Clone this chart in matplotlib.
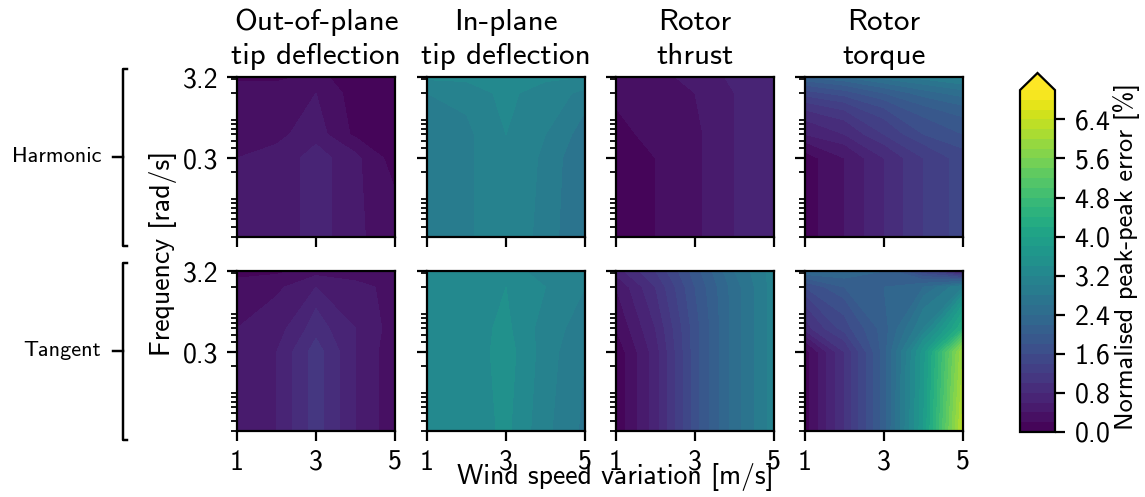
import numpy as np
import matplotlib
matplotlib.use("Agg")
import matplotlib.pyplot as plt
from matplotlib.lines import Line2D
from matplotlib.ticker import NullFormatter

plt.rcParams['font.family'] = ['cmss10', 'DejaVu Sans']
plt.rcParams['axes.unicode_minus'] = False
plt.rcParams['axes.formatter.use_mathtext'] = True
plt.rcParams['axes.linewidth'] = 1.0
plt.rcParams['xtick.major.size'] = 4.5
plt.rcParams['ytick.major.size'] = 4.5
plt.rcParams['xtick.minor.size'] = 2.5
plt.rcParams['ytick.minor.size'] = 2.5
plt.rcParams['xtick.major.width'] = 1.0
plt.rcParams['ytick.major.width'] = 1.0
plt.rcParams['ytick.minor.width'] = 0.8
plt.rcParams['xtick.major.pad'] = 4
plt.rcParams['ytick.major.pad'] = 4

wind = [1, 2, 3, 4, 5]                 # wind speed variation [m/s]
freq = [0.03, 0.3, 0.6, 2.0, 3.2]      # frequency [rad/s]
titles = ["Out-of-plane\ntip deflection", "In-plane\ntip deflection",
          "Rotor\nthrust", "Rotor\ntorque"]
rows = ["Harmonic", "Tangent"]

# rows of each grid go with freq (low -> high), columns with wind
harm_oop = [[0.40, 0.45, 0.70, 0.45, 0.25],
            [0.40, 0.45, 0.70, 0.45, 0.10],
            [0.40, 0.35, 0.50, 0.15, 0.05],
            [0.30, 0.30, 0.40, 0.10, 0.05],
            [0.15, 0.15, 0.25, 0.10, 0.05]]
harm_ip = [[2.95, 2.95, 3.20, 2.90, 2.60],
           [2.95, 2.95, 3.20, 2.95, 2.60],
           [2.95, 2.95, 3.20, 3.00, 2.70],
           [3.00, 3.10, 3.25, 3.10, 2.95],
           [3.25, 3.25, 3.30, 3.25, 3.20]]
harm_thr = [[0.10, 0.20, 0.35, 0.60, 0.70],
            [0.10, 0.20, 0.35, 0.60, 0.70],
            [0.15, 0.25, 0.35, 0.60, 0.70],
            [0.25, 0.30, 0.40, 0.60, 0.70],
            [0.30, 0.35, 0.45, 0.65, 0.70]]
harm_trq = [[0.10, 0.40, 0.80, 1.20, 1.50],
            [0.10, 0.40, 0.80, 1.20, 1.50],
            [0.60, 0.80, 1.20, 1.60, 1.80],
            [1.50, 1.70, 2.00, 2.30, 2.50],
            [2.20, 2.40, 2.70, 2.90, 3.10]]
tang_oop = [[0.45, 0.60, 1.10, 0.60, 0.25],
            [0.45, 0.60, 1.10, 0.60, 0.25],
            [0.40, 0.50, 0.90, 0.60, 0.30],
            [0.30, 0.35, 0.60, 0.45, 0.35],
            [0.10, 0.15, 0.30, 0.30, 0.30]]
tang_ip = [[3.20, 3.25, 3.45, 3.05, 2.75],
           [3.20, 3.25, 3.50, 3.10, 2.80],
           [3.20, 3.30, 3.45, 3.10, 2.90],
           [3.20, 3.30, 3.40, 3.20, 3.00],
           [3.20, 3.30, 3.30, 3.10, 3.00]]
tang_thr = [[0.05, 0.70, 1.70, 2.50, 3.10],
            [0.05, 0.70, 1.70, 2.50, 3.10],
            [0.20, 0.80, 1.70, 2.50, 3.10],
            [0.40, 1.00, 1.80, 2.50, 3.10],
            [0.70, 1.20, 1.90, 2.60, 3.10]]
tang_trq = [[0.10, 1.00, 2.10, 3.80, 6.30],
            [0.10, 1.00, 2.10, 3.70, 6.00],
            [0.90, 1.50, 2.10, 3.00, 4.40],
            [1.60, 2.00, 2.20, 2.40, 3.00],
            [2.40, 2.40, 2.20, 1.40, 0.40]]

grids = [[harm_oop, harm_ip, harm_thr, harm_trq],
         [tang_oop, tang_ip, tang_thr, tang_trq]]

levels = np.arange(0, 7.01, 0.2)

W, H = 1145, 497
fig = plt.figure(figsize=(W / 160, H / 160), dpi=160)

lefts = [237, 427, 616, 805]
tops = [77, 271]
aw, ah = 158, 160

X, Y = np.meshgrid(wind, freq)
for i in range(2):
    for j in range(4):
        ax = fig.add_axes([lefts[j] / W, 1 - (tops[i] + ah) / H, aw / W, ah / H])
        cs = ax.contourf(X, Y, np.array(grids[i][j]), levels=levels,
                         cmap='viridis', extend='max')
        ax.set_yscale('log')
        ax.set_ylim(0.03, 3.2)
        ax.set_xlim(1, 5)
        ax.set_yticks([0.3, 3.2])
        ax.yaxis.set_minor_formatter(NullFormatter())
        ax.set_xticks([1, 3, 5])
        ax.tick_params(labelsize=12.5)
        if j == 0:
            ax.set_yticklabels(['0.3', '3.2'])
        else:
            ax.set_yticklabels([])
        if i == 1:
            ax.set_xticklabels(['1', '3', '5'])
        else:
            ax.set_xticklabels([])
            ax.set_title(titles[j], fontsize=14, pad=6, linespacing=1.3)

# row brackets
def px(x, y):
    return x / W, 1 - y / H

for i, name in enumerate(rows):
    top = tops[i] - 8
    bot = tops[i] + ah + 9
    mid = tops[i] + ah / 2
    xs, ys = zip(px(127, top), px(123, top), px(123, bot), px(127, bot))
    fig.add_artist(Line2D(xs, ys, color='k', lw=1.1))
    xs, ys = zip(px(113, mid), px(123, mid))
    fig.add_artist(Line2D(xs, ys, color='k', lw=1.1))
    fig.text(101 / W, 1 - mid / H, name, ha='right', va='center', fontsize=10)

fig.text(163 / W, 1 - 253 / H, "Frequency [rad/s]", rotation=90,
         ha='center', va='center', fontsize=12.5)
fig.text(615 / W, 1 - 477 / H, "Wind speed variation [m/s]",
         ha='center', va='center', fontsize=12.5)

cax = fig.add_axes([1020 / W, 1 - 432 / H, 35 / W, 359 / H])
cb = fig.colorbar(cs, cax=cax)
cb.ax.tick_params(labelsize=12.5)
fig.text(1127 / W, 1 - 257 / H, "Normalised peak-peak error [%]", rotation=90,
         ha='center', va='center', fontsize=11.8)

fig.savefig("out.png", dpi=160)
